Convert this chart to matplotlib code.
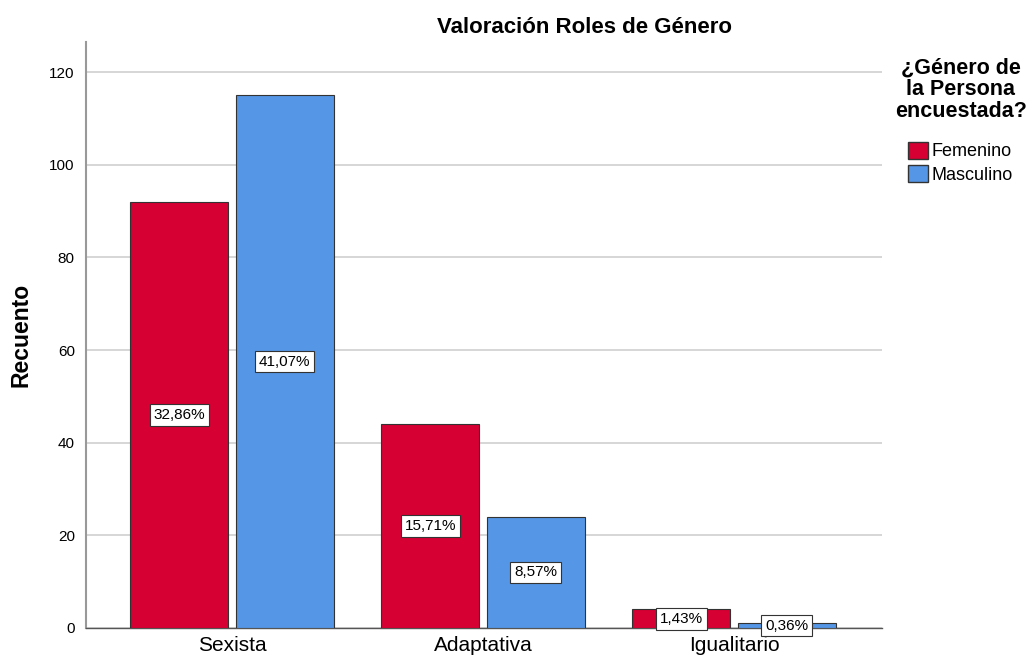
import matplotlib
matplotlib.use("Agg")
import matplotlib.pyplot as plt
import numpy as np
from matplotlib.patches import Patch

categories = ["Sexista", "Adaptativa", "Igualitario"]
series_names = ["Femenino", "Masculino"]
femenino = [92, 44, 4]
masculino = [115, 24, 1]
fem_labels = ["32,86%", "15,71%", "1,43%"]
mas_labels = ["41,07%", "8,57%", "0,36%"]
colors = ["#D70032", "#5596E6"]

plt.rcParams['font.family'] = ['Liberation Sans', 'DejaVu Sans']

fig = plt.figure(figsize=(10.32, 6.62), dpi=100)
ax = fig.add_axes([0.0833, 0.0514, 0.7714, 0.8852])

x = np.arange(len(categories))
w = 0.39
off = 0.21
for vals, labs, c, sgn in [(femenino, fem_labels, colors[0], -1), (masculino, mas_labels, colors[1], 1)]:
    bars = ax.bar(x + sgn * off, vals, width=w, color=c, edgecolor="#333333", linewidth=0.8, zorder=3)
    for b, v, lab in zip(bars, vals, labs):
        ax.text(b.get_x() + b.get_width() / 2, v / 2, lab, ha="center", va="center", fontsize=11,
                zorder=4, bbox=dict(boxstyle="square,pad=0.25", fc="white", ec="#333333", lw=0.8))

ax.set_xlim(-0.582, 2.59)
ax.set_ylim(0, 126.5)
ax.set_yticks([0, 20, 40, 60, 80, 100, 120])
ax.set_xticks(x)
ax.set_xticklabels(categories, fontsize=15)
ax.tick_params(axis="y", labelsize=11, length=0, pad=8)
ax.tick_params(axis="x", length=0, pad=6)
ax.yaxis.grid(True, color="#D0D0D0", linewidth=1.2, zorder=0)
ax.set_axisbelow(True)
for s in ["top", "right"]:
    ax.spines[s].set_visible(False)
ax.spines["left"].set_color("#999999")
ax.spines["left"].set_linewidth(1.5)
ax.spines["bottom"].set_color("#555555")
ax.spines["bottom"].set_linewidth(1.0)

ax.set_ylabel("Recuento", fontsize=16.5, fontweight="bold", labelpad=12)
fig.text(0.566, 0.958, "Valoración Roles de Género", fontsize=16, fontweight="bold",
         ha="center", va="center")

handles = [Patch(facecolor=colors[0], edgecolor="#333333", label=series_names[0]),
           Patch(facecolor=colors[1], edgecolor="#333333", label=series_names[1])]
leg = fig.legend(handles=handles, title="¿Género de\nla Persona\nencuestada?", loc="upper center",
                 bbox_to_anchor=(0.931, 0.935), frameon=False, fontsize=13,
                 title_fontproperties={"weight": "bold", "size": 15.5},
                 handlelength=1.1, handleheight=1.1, handletextpad=0.2, labelspacing=0.25,
                 borderpad=0.3)
leg._legend_box.align = "center"
leg._legend_box.sep = 14
leg.get_title().set_multialignment("center")
leg.get_title().set_linespacing(1.05)

fig.savefig("out.png", dpi=100)
